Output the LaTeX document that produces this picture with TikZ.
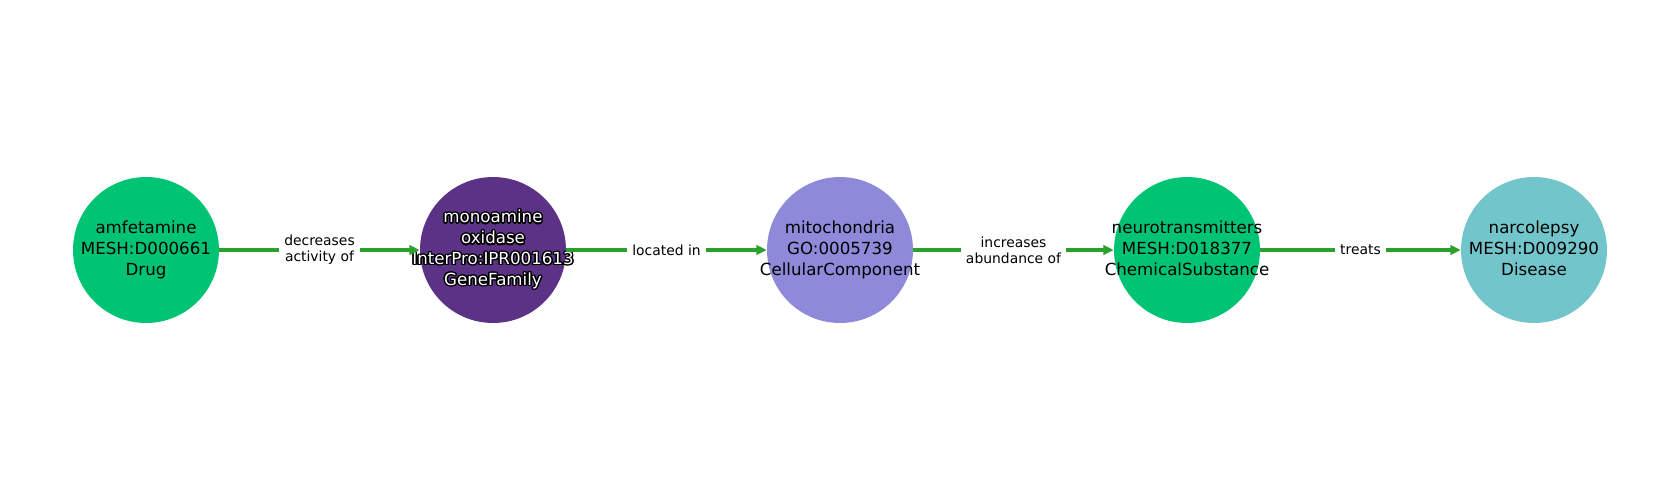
\documentclass[tikz,border=0pt]{standalone}
\usepackage{fontspec}
\setmainfont{DejaVu Sans}
\usepackage{xcolor}
\usepackage{contour}
\contourlength{1pt}
\usepackage{tikz}
\usetikzlibrary{arrows.meta}

\definecolor{drugGreen}{HTML}{00C374}
\definecolor{familyPurple}{HTML}{5B3286}
\definecolor{componentLavender}{HTML}{8E89D9}
\definecolor{diseaseTeal}{HTML}{72C6CB}
\definecolor{edgeGreen}{HTML}{2CA02C}

% label that may spill out of its circle
\newcommand{\spill}[1]{\makebox[0pt]{\begin{tabular}{@{}c@{}}#1\end{tabular}}}
\newcommand{\outlined}[1]{\contour{black}{#1}}

\begin{document}
\begin{tikzpicture}[x=0.72pt, y=-0.72pt,
        entity/.style={
                circle,
                minimum size=105.1pt,
                inner sep=0pt,
                font=\fontsize{12}{15}\selectfont,
        },
        relation/.style={
                draw=edgeGreen,
                line width=2.6pt,
                -{Triangle[length=7.5pt, width=6.8pt]},
        },
        rellabel/.style={
                fill=white,
                inner sep=3.6pt,
                align=center,
                font=\fontsize{10}{11.5}\selectfont,
        }]
            \useasboundingbox (0, 0) rectangle (1680, 500);
            \node[entity, fill=drugGreen] (amfetamine) at (146, 250) {\spill{amfetamine\\MESH:D000661\\Drug}};
            \node[entity, fill=familyPurple, text=white] (oxidase) at (493, 250) {\spill{\outlined{monoamine}\\\outlined{oxidase}\\\outlined{InterPro:IPR001613}\\\outlined{GeneFamily}}};
            \node[entity, fill=componentLavender] (mitochondria) at (840, 250) {\spill{mitochondria\\GO:0005739\\CellularComponent}};
            \node[entity, fill=drugGreen] (neurotransmitters) at (1187, 250) {\spill{neurotransmitters\\MESH:D018377\\ChemicalSubstance}};
            \node[entity, fill=diseaseTeal] (narcolepsy) at (1534, 250) {\spill{narcolepsy\\MESH:D009290\\Disease}};
            \draw[relation] (amfetamine) -- node[rellabel] {decreases\\activity of} (oxidase);
            \draw[relation] (oxidase) -- node[rellabel] {located in} (mitochondria);
            \draw[relation] (mitochondria) -- node[rellabel] {increases\\abundance of} (neurotransmitters);
            \draw[relation] (neurotransmitters) -- node[rellabel] {treats} (narcolepsy);
        \end{tikzpicture}
\end{document}
